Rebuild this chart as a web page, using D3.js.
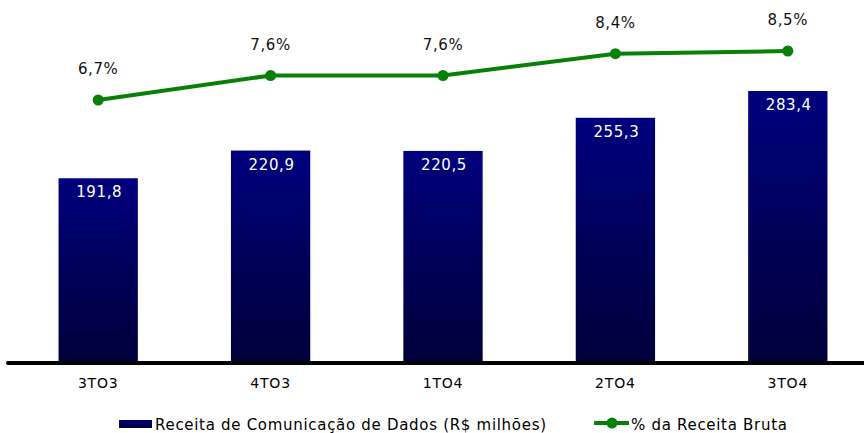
<!DOCTYPE html>
<html>
<head>
<meta charset="utf-8">
<script src="https://cdn.jsdelivr.net/npm/d3@7"></script>
<style>
  body { margin: 0; background: #fff; }
  svg text { font-family: "DejaVu Sans", Verdana, sans-serif; }
</style>
</head>
<body>
<div id="chartArea"></div>
<script>
var categories = ["3TO3", "4TO3", "1TO4", "2TO4", "3TO4"];
var receita = [191.8, 220.9, 220.5, 255.3, 283.4];
var percent = [6.7, 7.6, 7.6, 8.4, 8.5];
var barLabels = ["191,8", "220,9", "220,5", "255,3", "283,4"];
var pctLabels = ["6,7%", "7,6%", "7,6%", "8,4%", "8,5%"];
var legendNames = ["Receita de Comunicação de Dados (R$ milhões)", "% da Receita Bruta"];

var width = 864, height = 433;
var baseY = 361;

var svg = d3.select("#chartArea").append("svg")
    .attr("width", width)
    .attr("height", height);

var defs = svg.append("defs");
var grad = defs.append("linearGradient")
    .attr("id", "barGrad")
    .attr("x1", 0).attr("y1", 0).attr("x2", 0).attr("y2", 1);
grad.append("stop").attr("offset", "0%").attr("stop-color", "#00007f");
grad.append("stop").attr("offset", "45%").attr("stop-color", "#00005e");
grad.append("stop").attr("offset", "100%").attr("stop-color", "#00003a");

var xscale = d3.scaleBand().domain(categories).range([12, 874]).paddingInner(0.54).paddingOuter(0.27);
var yscale = d3.scaleLinear().domain([0, 300]).range([baseY, baseY - 285.8]);
var pscale = d3.scaleLinear().domain([6.7, 8.5]).range([100, 51]);

// bars
svg.append("g").selectAll("rect").data(receita).enter().append("rect")
    .attr("x", function(d, i) { return xscale(categories[i]); })
    .attr("y", function(d) { return yscale(d); })
    .attr("width", xscale.bandwidth())
    .attr("height", function(d) { return baseY - yscale(d); })
    .attr("fill", "url(#barGrad)");

// bar value labels
svg.append("g").selectAll("text").data(receita).enter().append("text")
    .attr("x", function(d, i) { return xscale(categories[i]) + xscale.bandwidth() / 2 + 1; })
    .attr("y", function(d) { return yscale(d) + 19; })
    .attr("text-anchor", "middle")
    .style("font-size", "15px")
    .style("letter-spacing", "0.6px")
    .attr("fill", "#fff")
    .text(function(d, i) { return barLabels[i]; });

// baseline axis
svg.append("g")
    .attr("transform", "translate(0," + (baseY + 1) + ")")
    .call(d3.axisBottom(xscale).tickSize(0).tickPadding(16))
    .call(function(g) {
        g.select(".domain").remove();
        g.selectAll("text").style("font-size", "14px").style("letter-spacing", "0.8px").attr("fill", "#000");
    });
svg.append("line")
    .attr("x1", 8).attr("x2", 864)
    .attr("y1", baseY + 2).attr("y2", baseY + 2)
    .attr("stroke", "#000").attr("stroke-width", 4).attr("stroke-linecap", "round");

// percent line
var cx = function(d, i) { return xscale(categories[i]) + xscale.bandwidth() / 2; };
var line = d3.line()
    .x(function(d, i) { return cx(d, i); })
    .y(function(d) { return pscale(d); });
svg.append("path").datum(percent)
    .attr("d", line)
    .attr("fill", "none")
    .attr("stroke", "#078007")
    .attr("stroke-width", 4);
svg.append("g").selectAll("circle").data(percent).enter().append("circle")
    .attr("cx", cx)
    .attr("cy", function(d) { return pscale(d); })
    .attr("r", 5.5)
    .attr("fill", "#078007");
svg.append("g").selectAll("text").data(percent).enter().append("text")
    .attr("x", cx)
    .attr("y", function(d) { return pscale(d) - 26; })
    .attr("text-anchor", "middle")
    .style("font-size", "15px")
    .style("letter-spacing", "0.6px")
    .attr("fill", "#111")
    .text(function(d, i) { return pctLabels[i]; });

// legend
var leg = svg.append("g");
leg.append("rect")
    .attr("x", 119).attr("y", 420).attr("width", 33).attr("height", 8)
    .attr("fill", "url(#barGrad)");
leg.append("text")
    .attr("x", 155).attr("y", 430)
    .style("font-size", "15px")
    .style("letter-spacing", "0.7px")
    .attr("fill", "#000")
    .text(legendNames[0]);
leg.append("line")
    .attr("x1", 594).attr("x2", 629).attr("y1", 423).attr("y2", 423)
    .attr("stroke", "#078007").attr("stroke-width", 4);
leg.append("circle")
    .attr("cx", 612).attr("cy", 423).attr("r", 5.5)
    .attr("fill", "#078007");
leg.append("text")
    .attr("x", 631).attr("y", 430)
    .style("font-size", "15px")
    .style("letter-spacing", "0.7px")
    .attr("fill", "#000")
    .text(legendNames[1]);
</script>
</body>
</html>
